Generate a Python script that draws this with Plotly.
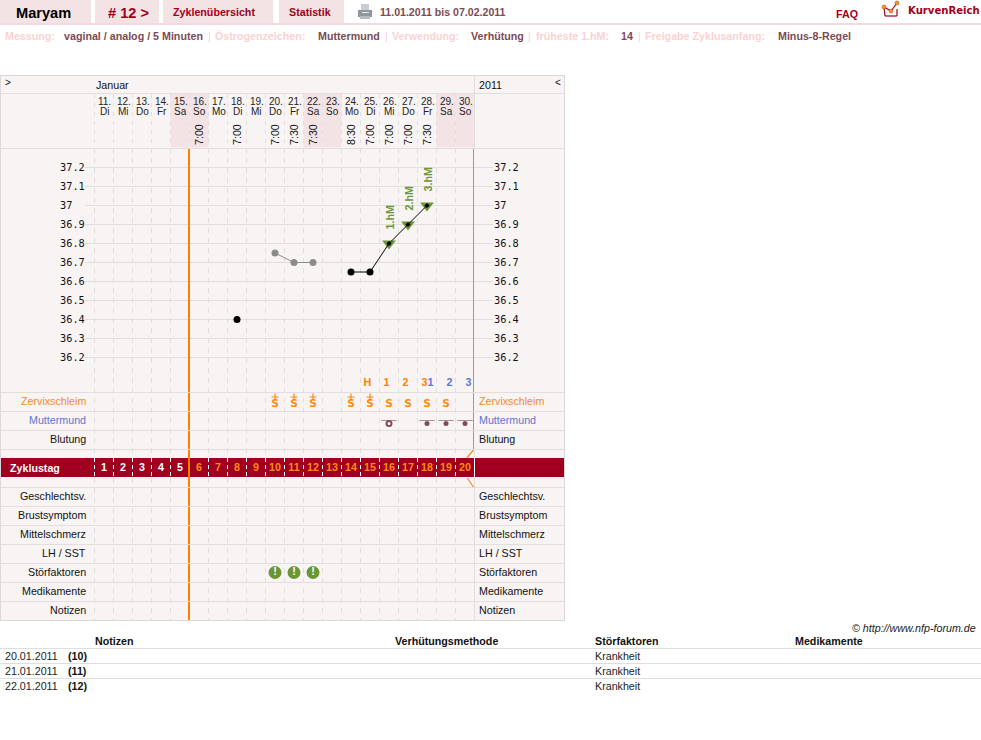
import plotly.graph_objects as go

# ---- chart data ----
days = list(range(11, 31))
weekdays = ["Di", "Mi", "Do", "Fr", "Sa", "So", "Mo", "Di", "Mi", "Do",
            "Fr", "Sa", "So", "Mo", "Di", "Mi", "Do", "Fr", "Sa", "So"]
weekend_days = [15, 16, 22, 23, 29, 30]
cycle_days = list(range(1, 21))

time_days = [16, 18, 20, 21, 22, 24, 25, 26, 27, 28]
time_labels = ["7:00", "7:00", "7:00", "7:30", "7:30", "8:30", "7:00", "7:00", "7:00", "7:30"]

temp_ticks = [37.2, 37.1, 37.0, 36.9, 36.8, 36.7, 36.6, 36.5, 36.4, 36.3, 36.2]
single_day = [18]
single_temp = [36.4]
excluded_days = [20, 21, 22]
excluded_temps = [36.75, 36.7, 36.7]
low_days = [24, 25]
low_temps = [36.65, 36.65]
curve_days = [24, 25, 26, 27, 28]
curve_temps = [36.65, 36.65, 36.8, 36.9, 37.0]
high_days = [26, 27, 28]
high_temps = [36.8, 36.9, 37.0]
high_labels = ["1.hM", "2.hM", "3.hM"]

peak_days = [25, 26, 27, 28]
peak_labels = ["H", "1", "2", "3"]
cervix_days = [28, 29, 30]
cervix_labels = ["1", "2", "3"]
mucus_plus_days = [20, 21, 22, 24, 25]
mucus_days = [20, 21, 22, 24, 25, 26, 27, 28, 29]
os_open_days = [26]
os_closed_days = [28, 29, 30]
disturbance_days = [20, 21, 22]

upper_rows = ["Zervixschleim", "Muttermund", "Blutung"]
upper_colors = ["#f58a1f", "#5a78cf", "#111111"]
lower_rows = ["Geschlechtsv.", "Brustsymptom", "Mittelschmerz", "LH / SST",
              "Störfaktoren", "Medikamente", "Notizen"]

note_dates = ["20.01.2011", "21.01.2011", "22.01.2011"]
note_cycle = ["(10)", "(11)", "(12)"]
note_factor = ["Krankheit", "Krankheit", "Krankheit"]

settings = [("Messung:", "vaginal / analog / 5 Minuten"),
            ("Östrogenzeichen:", "Muttermund"),
            ("Verwendung:", "Verhütung"),
            ("früheste 1.hM:", "14"),
            ("Freigabe Zyklusanfang:", "Minus-8-Regel")]

# ---- page geometry, in page pixels ----
W, H = 981, 740
FIRST_CENTER, COL = 104.0, 19.0
TEMP_REF_Y, TEMP_PX = 167.5, 190.0
SANS = "Liberation Sans"
MONO = "DejaVu Sans Mono"
GRID = "#e2dedd"
PANEL = "#f9f4f4"
SHADE = "#f3e3e5"
DARKRED = "#a00020"
BROWN = "#7d4a52"
PALE = "#fbd2d2"
ORANGE = "#ff8000"
BLUE = "#5a78cf"
GREEN = "#6a9636"

px = lambda x: x / W
py = lambda y: 1 - y / H
day_x = lambda p: 11 + (p - FIRST_CENTER) / COL
temp_y = lambda p: 37.2 + (TEMP_REF_Y - p) / TEMP_PX

shapes, notes = [], []


def rect(x0, y0, x1, y1, fill):
    shapes.append(dict(type="rect", xref="paper", yref="paper", x0=px(x0), x1=px(x1),
                       y0=py(y0), y1=py(y1), fillcolor=fill, line_width=0, layer="below"))


def seg(x0, y0, x1, y1, color=GRID, width=1, dash="solid"):
    shapes.append(dict(type="line", xref="paper", yref="paper", x0=px(x0), x1=px(x1),
                       y0=py(y0), y1=py(y1), layer="below",
                       line=dict(color=color, width=width, dash=dash)))


def text(x, y, s, size=10.7, color="#111111", bold=False, anchor="left", family=SANS,
         angle=0, italic=False):
    label = f"<b>{s}</b>" if bold else s
    label = f"<i>{label}</i>" if italic else label
    notes.append(dict(xref="paper", yref="paper", x=px(x), y=py(y), text=label, showarrow=False,
                      xanchor=anchor, yanchor="middle", borderpad=0, borderwidth=0,
                      textangle=angle, font=dict(family=family, size=size, color=color)))


# top navigation
for x0, x1 in [(0, 91), (95, 159), (163, 273), (279, 344)]:
    rect(x0, 0, x1, 23, SHADE)
rect(0, 23, W, 25, "#f3dadd")
text(16, 13, "Maryam", 14.6, "#000000", True)
text(108, 13, "# 12 &gt;", 14.6, DARKRED, True)
text(173, 12.5, "Zyklenübersicht", 10.7, DARKRED, True)
text(289, 12.5, "Statistik", 10.7, DARKRED, True)
text(380, 12.5, "11.01.2011 bis 07.02.2011", 10.6, BROWN, True)
text(836, 14, "FAQ", 10.7, DARKRED, True)
text(908, 10.5, "KurvenReich", 10.1, DARKRED, True, family="DejaVu Sans")

# printer icon
rect(361, 4, 369, 11, "#c9ced3")
rect(358, 10, 372, 17, "#8f979e")
rect(360, 16, 370, 19, "#b5bcc2")
rect(362, 12, 369, 13, "#e8ebed")

# brand logo
seg(884, 7, 885, 16, DARKRED, 1.2)
seg(885, 16, 897, 16, DARKRED, 1.2)
seg(897, 16, 897, 9, DARKRED, 1.2)
seg(884, 7, 891, 11, DARKRED, 1.2)
seg(891, 11, 897, 3, DARKRED, 1.2)
for cx, cy in [(884, 7), (891, 11), (897, 3)]:
    shapes.append(dict(type="circle", xref="paper", yref="paper", layer="below",
                       x0=px(cx - 2), x1=px(cx + 2), y0=py(cy + 2), y1=py(cy - 2),
                       fillcolor="#f39a1c", line=dict(color="#b23a1c", width=0.5)))

# settings line
label_x = [5, 215, 392, 536, 645]
value_x = [64, 318, 471, 621, 778]
sep_x = [208, 385, 528, 638]
for (lab, val), lx, vx in zip(settings, label_x, value_x):
    text(lx, 36, lab, 10.7, PALE, True)
    text(vx, 36, val, 10.7, BROWN, True)
for sx in sep_x:
    text(sx, 36, "|", 10.7, PALE)

# chart panel
rect(0, 75, 565, 621, PANEL)
for d in weekend_days:
    x0 = FIRST_CENTER + (d - 11) * COL - COL / 2
    rect(x0, 93.5, x0 + COL, 147.5, SHADE)

# day columns
for i in range(20):
    x = 94.5 + i * COL
    seg(x, 94, x, 147, "#e2dedd", 1, "4px,5px")
    seg(x, 148, x, 621, "#e2dedd", 1, "5px,5px")

# temperature grid
for t in temp_ticks:
    shapes.append(dict(type="line", xref="paper", yref="y", x0=px(85), x1=px(493), y0=t, y1=t,
                       layer="below", line=dict(color=GRID, width=1)))

# cycle-day band
rect(0.5, 458, 564.5, 477, "#a00020")
for i in range(20):
    x = 94.5 + i * COL
    seg(x, 458, x, 477, "#ffffff", 1, "4px,3px")
rect(474, 458, 475, 477, "#ffffff")

# cycle markers
seg(189, 148, 189, 621, ORANGE, 2)
seg(473.5, 148, 473.5, 450, "#d98a45", 1)
seg(473.5, 450, 466.7, 458, "#f08a24", 1.2)
seg(467.3, 478, 473.5, 487, "#f08a24", 1.2)

# panel rules
for y in [93.5, 148.5, 392.5, 411.5, 430.5, 449.5, 487.5, 506.5, 525.5, 544.5, 563.5, 582.5, 601.5]:
    seg(0.5, y, 564.5, y)
seg(474.5, 75, 474.5, 148)
seg(474.5, 449, 474.5, 458)
seg(474.5, 477, 474.5, 621)
for x0, y0, x1, y1 in [(0.5, 75.5, 564.5, 75.5), (0.5, 620.5, 564.5, 620.5),
                       (0.5, 75, 0.5, 621), (564.5, 75, 564.5, 621)]:
    seg(x0, y0, x1, y1, "#dcd8d7", 1)

# panel header
text(5, 83, "&gt;", 10, "#111111")
text(96, 85, "Januar", 10.7)
text(479, 85, "2011", 10.7)
text(555, 83, "&lt;", 10, "#111111")
for d, wd in zip(days, weekdays):
    cx = FIRST_CENTER + (d - 11) * COL + 0.5
    text(cx, 101.5, f"{d}.", 10, "#222222", anchor="center")
    text(cx, 111, wd, 10, "#222222", anchor="center")
for d, t in zip(time_days, time_labels):
    text(FIRST_CENTER + (d - 11) * COL, 135, t, 10.7, "#111111", anchor="center", angle=-90)

# temperature scale, both sides
for t in temp_ticks:
    label = f"{t:g}"
    y = TEMP_REF_Y - 0.6 + (37.2 - t) * TEMP_PX
    text(60, y, label, 10.3, "#111111", family=MONO)
    text(494.5, y, label, 10.3, "#111111", family=MONO)

# row titles
for i, (name, color) in enumerate(zip(upper_rows, upper_colors)):
    y = 401 + i * COL
    text(86, y, name, 10.7, color, anchor="right")
    text(479, y, name, 10.7, color)
for i, name in enumerate(lower_rows):
    y = 495.5 + i * COL
    text(86, y, name, 10.7, "#111111", anchor="right")
    text(479, y, name, 10.7, "#111111")
text(10, 468, "Zyklustag", 10.7, "#ffffff", True)

# table below the chart
for y in [648.5, 663.5, 678.5]:
    seg(0, y, W, y, "#dedede")
text(976, 628, "© http://www.nfp-forum.de", 10.7, "#222222", anchor="right", italic=True)
for x, name in [(95, "Notizen"), (395, "Verhütungsmethode"), (595, "Störfaktoren"), (795, "Medikamente")]:
    text(x, 641, name, 10.7, "#111111", True)
for i, (dt, cyc, fac) in enumerate(zip(note_dates, note_cycle, note_factor)):
    y = 656 + i * 15
    text(5, y, dt, 10.7, "#222222")
    text(68, y, cyc, 10.7, "#111111", True)
    text(595, y, fac, 10.7, "#222222")

fig = go.Figure()
ROW_AXIS = dict(xaxis="x", yaxis="y2", hoverinfo="skip", showlegend=False)


def row_text(x, y, labels, color, size, family=SANS, shift=0):
    labels = [f"<b>{s}</b>" for s in labels]
    fig.add_trace(go.Scatter(x=[d + shift / COL for d in x], y=y, text=labels, mode="text",
                             textposition="middle center",
                             textfont=dict(family=family, size=size, color=color), **ROW_AXIS))


# temperature curve
fig.add_trace(go.Scatter(x=excluded_days, y=excluded_temps, mode="lines+markers", hoverinfo="skip",
                         line=dict(color="#8c8c8c", width=1), marker=dict(color="#8c8c8c", size=7)))
fig.add_trace(go.Scatter(x=high_days, y=high_temps, mode="markers", hoverinfo="skip",
                         marker=dict(symbol="triangle-down", color=GREEN, size=12, line_width=0)))
fig.add_trace(go.Scatter(x=curve_days, y=curve_temps, mode="lines", hoverinfo="skip",
                         line=dict(color="#000000", width=1)))
fig.add_trace(go.Scatter(x=low_days + single_day, y=low_temps + single_temp, mode="markers",
                         hoverinfo="skip", marker=dict(color="#000000", size=7)))
fig.add_trace(go.Scatter(x=high_days, y=high_temps, mode="markers", hoverinfo="skip",
                         marker=dict(symbol="diamond", color="#000000", size=4)))
for d, t, lab in zip(high_days, high_temps, high_labels):
    notes.append(dict(xref="x", yref="y", x=d, y=t, yshift=26, text=f"<b>{lab}</b>", showarrow=False,
                      textangle=-90, borderpad=0, borderwidth=0, xanchor="center", yanchor="middle",
                      font=dict(family=SANS, size=10.7, color=GREEN)))

# cycle numbers
row_text(days[:5], [468.5] * 5, [str(c) for c in cycle_days[:5]], "#ffffff", 10.7)
row_text(days[5:], [468.5] * 15, [str(c) for c in cycle_days[5:]], "#ff8a10", 10.7)

# rule-of-thumb counters
row_text(peak_days, [383.5] * 4, peak_labels, ORANGE, 10.7, shift=-2.6)
row_text(cervix_days, [383.5] * 3, cervix_labels, BLUE, 10.7, shift=3.6)

# mucus observations
row_text(mucus_days, [404.5] * len(mucus_days), ["S"] * len(mucus_days), "#ff8a10", 10.5, "DejaVu Sans")
fig.add_trace(go.Scatter(x=mucus_plus_days, y=[397] * len(mucus_plus_days), mode="markers",
                         marker=dict(symbol="cross-thin", size=5, line=dict(color="#ff8a10", width=1.2)),
                         **ROW_AXIS))

# cervix position
fig.add_trace(go.Scatter(x=os_open_days + os_closed_days, y=[420.5] * 4, mode="markers",
                         marker=dict(symbol="line-ew", size=11, line=dict(color="#ad8f92", width=1)),
                         **ROW_AXIS))
fig.add_trace(go.Scatter(x=os_closed_days, y=[423.5] * 3, mode="markers",
                         marker=dict(color="#7d4f55", size=5), **ROW_AXIS))
fig.add_trace(go.Scatter(x=os_open_days, y=[423.5], mode="markers",
                         marker=dict(color="#ffffff", size=5, line=dict(color="#7d4f55", width=2)),
                         **ROW_AXIS))

# disturbance flags
fig.add_trace(go.Scatter(x=disturbance_days, y=[572.5] * 3, mode="markers+text", text=["<b>!</b>"] * 3,
                         textposition="middle center",
                         textfont=dict(family=SANS, size=11, color="#ffffff"),
                         marker=dict(color=GREEN, size=13), **ROW_AXIS))

fig.update_layout(
    width=W, height=H, autosize=False, margin=dict(l=0, r=0, t=0, b=0, pad=0),
    paper_bgcolor="#ffffff", plot_bgcolor="rgba(0,0,0,0)", showlegend=False, hovermode=False,
    shapes=shapes, annotations=notes,
    xaxis=dict(range=[day_x(0), day_x(W)], domain=[0, 1], visible=False, fixedrange=True),
    yaxis=dict(range=[temp_y(H), temp_y(0)], domain=[0, 1], visible=False, fixedrange=True),
    yaxis2=dict(range=[H, 0], domain=[0, 1], overlaying="y", visible=False, fixedrange=True),
)

fig.write_html("out.html", config=dict(displayModeBar=False))
